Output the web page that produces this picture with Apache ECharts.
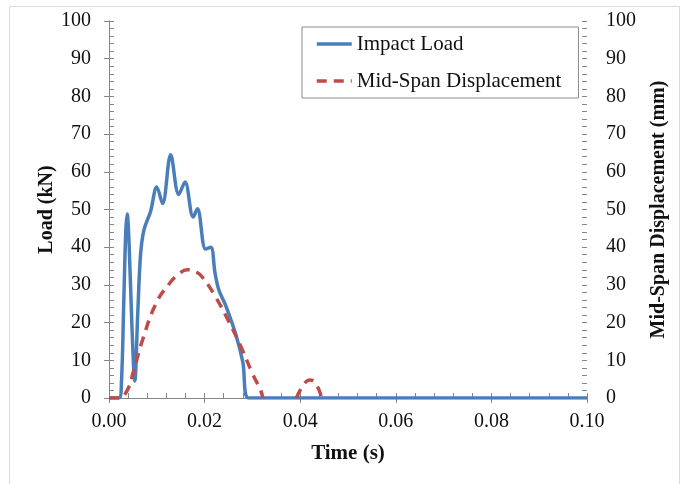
<!DOCTYPE html>
<html>
<head>
<meta charset="utf-8">
<script src="https://cdn.jsdelivr.net/npm/echarts@6/dist/echarts.min.js"></script>
<style>html,body{margin:0;padding:0;background:#fff;}#c{width:681px;height:484px;}</style>
</head>
<body>
<div id="c"></div>
<script>
// Time (s) and values
var loadTime = [0, 0.0021, 0.0026, 0.0031, 0.0035, 0.0038, 0.0042, 0.0048, 0.0054, 0.0060, 0.0066, 0.0073, 0.0087, 0.0100, 0.0112, 0.0129, 0.0146, 0.0159, 0.0176, 0.0185, 0.0202, 0.0213, 0.0222, 0.0230, 0.0244, 0.0265, 0.0280, 0.0292, 0.0400, 0.0600, 0.0800, 0.1000];
var loadValue = [0, 0, 4, 26, 44, 48.8, 41, 19, 4.5, 22, 38, 44.5, 49.5, 56, 51.6, 64.5, 54, 57.3, 48, 50.2, 39.5, 40, 33, 28.6, 24.6, 17, 9.5, 0, 0, 0, 0, 0];
var dispTime = [0, 0.0021, 0.0038, 0.0052, 0.0070, 0.0098, 0.0126, 0.0147, 0.0164, 0.0180, 0.0195, 0.0223, 0.0251, 0.0276, 0.0300, 0.0317, 0.0322, 0.0360, 0.0392, 0.0408, 0.0420, 0.0432, 0.0445];
var dispValue = [0, 0, 2, 7.4, 15.3, 25, 30.3, 33, 34, 33.6, 32.1, 26.8, 20.2, 13.6, 6.5, 2.1, 0, '-', 0, 3.7, 4.8, 4, 0];
var xTicks = [0, 0.02, 0.04, 0.06, 0.08, 0.10];
var yTicks = [0, 10, 20, 30, 40, 50, 60, 70, 80, 90, 100];

function pairs(xs, ys) { return xs.map(function (x, i) { return [x, ys[i]]; }); }

var FONT = 'Liberation Serif';
var AX = '#868686';
var TXT = '#111';

var chart = echarts.init(document.getElementById('c'), null, {renderer: 'canvas'});
chart.setOption({
  animation: false,
  backgroundColor: '#fff',
  textStyle: {fontFamily: FONT},
  graphic: [{
    type: 'rect', silent: true,
    shape: {x: 9.5, y: 6.5, width: 670, height: 500},
    style: {fill: 'none', stroke: '#d9d9d9', lineWidth: 1}
  }],
  grid: {left: 109, right: 94, top: 21, bottom: 86, containLabel: false},
  legend: {
    orient: 'vertical', left: 302, top: 27,
    padding: [6, 17, 6, 13],
    itemGap: 15, itemWidth: 35, itemHeight: 20,
    backgroundColor: '#fff', borderColor: '#8c8c8c', borderWidth: 1,
    itemStyle: {opacity: 0},
    lineStyle: {width: 3.5},
    textStyle: {fontFamily: FONT, fontSize: 21, color: TXT, lineHeight: 22},
    data: ['Impact Load', 'Mid-Span Displacement']
  },
  xAxis: [{
    type: 'value', position: 'bottom', min: 0, max: 0.1, interval: 0.02,
    name: 'Time (s)', nameLocation: 'middle', nameGap: 45, nameMoveOverlap: false,
    nameTextStyle: {fontFamily: FONT, fontSize: 21, fontWeight: 'bold', color: TXT},
    axisLine: {show: true, lineStyle: {color: AX, width: 1}},
    axisTick: {show: true, inside: false, length: 5, lineStyle: {color: AX}},
    axisLabel: {margin: 14, fontFamily: FONT, fontSize: 20, color: TXT,
      formatter: function (v) { return v.toFixed(2); }},
    splitLine: {show: false}
  }, {
    type: 'value', position: 'bottom', min: 0, max: 0.1, interval: 0.004,
    axisLine: {show: false},
    axisTick: {show: true, inside: true, length: 5, lineStyle: {color: AX}},
    axisLabel: {show: false}, splitLine: {show: false}
  }],
  yAxis: [{
    type: 'value', position: 'left', min: 0, max: 100, interval: 10,
    name: 'Load (kN)', nameLocation: 'middle', nameGap: 52, nameMoveOverlap: false,
    nameTextStyle: {fontFamily: FONT, fontSize: 20, fontWeight: 'bold', color: TXT},
    axisLine: {show: true, lineStyle: {color: AX, width: 1}},
    axisTick: {show: true, inside: false, length: 5, lineStyle: {color: AX}},
    axisLabel: {margin: 18, fontFamily: FONT, fontSize: 20, color: TXT},
    splitLine: {show: false}
  }, {
    type: 'value', position: 'right', min: 0, max: 100, interval: 10,
    name: 'Mid-Span Displacement (mm)', nameLocation: 'middle', nameGap: 62, nameMoveOverlap: false,
    nameRotate: 90,
    nameTextStyle: {fontFamily: FONT, fontSize: 20, fontWeight: 'bold', color: TXT},
    axisLine: {show: true, lineStyle: {color: AX, width: 1}},
    axisTick: {show: true, inside: false, length: 5, lineStyle: {color: AX}},
    axisLabel: {margin: 19, fontFamily: FONT, fontSize: 20, color: TXT},
    splitLine: {show: false}
  }, {
    type: 'value', position: 'left', min: 0, max: 100, interval: 2,
    axisLine: {show: false},
    axisTick: {show: true, inside: true, length: 5, lineStyle: {color: AX}},
    axisLabel: {show: false}, splitLine: {show: false}
  }, {
    type: 'value', position: 'right', min: 0, max: 100, interval: 2,
    axisLine: {show: false},
    axisTick: {show: true, inside: true, length: 5, lineStyle: {color: AX}},
    axisLabel: {show: false}, splitLine: {show: false}
  }],
  series: [{
    name: 'Impact Load', type: 'line', xAxisIndex: 0, yAxisIndex: 0,
    data: pairs(loadTime, loadValue),
    showSymbol: false, symbol: 'none', smooth: 0.35,
    lineStyle: {color: '#4a7ebb', width: 3.5},
    itemStyle: {color: '#4a7ebb'}
  }, {
    name: 'Mid-Span Displacement', type: 'line', xAxisIndex: 0, yAxisIndex: 1,
    data: pairs(dispTime, dispValue),
    showSymbol: false, symbol: 'none', smooth: 0.45, connectNulls: false,
    lineStyle: {color: '#be4b48', width: 3.5, type: [10, 7]},
    itemStyle: {color: '#be4b48'}
  }]
});
</script>
</body>
</html>
